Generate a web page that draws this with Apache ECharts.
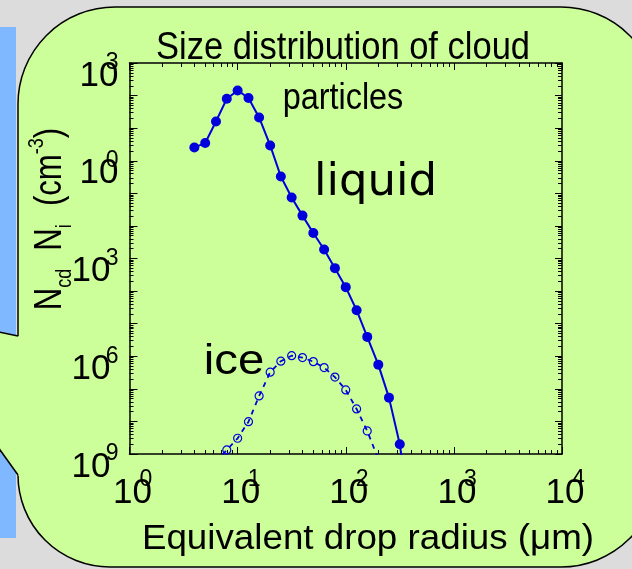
<!DOCTYPE html>
<html><head><meta charset="utf-8">
<script src="https://cdn.jsdelivr.net/npm/echarts@6/dist/echarts.min.js"></script>
<style>html,body{margin:0;padding:0;background:#dcdcdc}#c{width:632px;height:569px}</style>
</head><body><div id="c"></div>
<script>
// ---- data ----
const radiusLiquid = [3.98, 5.01, 6.31, 7.94, 10.0, 12.6, 15.8, 20.0, 25.1, 31.6, 39.8, 50.1, 63.1, 79.4, 100, 126, 158, 200, 251, 316, 398];
const nLiquid = [2.56, 3.49, 16.1, 80, 144, 84, 21.3, 2.95, 0.329, 0.0745, 0.0207, 0.00605, 0.00188, 5.06e-4, 1.32e-4, 2.59e-5, 3.93e-6, 5.53e-7, 5.37e-8, 1.99e-9, 1e-11];
const radiusIce = [6.31, 7.94, 10.0, 12.6, 15.8, 20.0, 25.1, 31.6, 39.8, 50.1, 63.1, 79.4, 100, 126, 158, 200];
const nIce = [5.6e-10, 1.33e-9, 3.04e-9, 9.8e-9, 6.05e-8, 3.24e-7, 7.05e-7, 1.04e-6, 9.08e-7, 6.84e-7, 4.48e-7, 2.29e-7, 9.25e-8, 2.41e-8, 5.09e-9, 7e-10];
// tick labels (decade exponents as drawn)
const xMajorExp = [0, 1, 2, 3, 4];
const xExpLabels = ['0', '1', '2', '3', '4'];
const yMajorExp = [-9, -6, -3, 0, 3];
const yExpLabels = ['9', '6', '3', '0', '3'];
const minorMantissa = [2, 3, 4, 5, 6, 7, 8, 9];

const xMinor = [], yMinor = [];
for (let d = 0; d < 4; d++) minorMantissa.forEach(m => xMinor.push(d + Math.log10(m)));
for (let d = -9; d < 3; d++) minorMantissa.forEach(m => yMinor.push(d + Math.log10(m)));

const BLUE = '#0000dd';
const FONT = "'Liberation Sans', Arial, sans-serif";
const tickStyle = {color: '#000', width: 1};
const lineStyle = {color: '#000', width: 1.5};

function helper(kind, pos, opt) {
  const isX = kind === 'x';
  const base = {
    type: 'value', position: pos,
    min: isX ? 0 : -9, max: isX ? 4 : 3,
    splitLine: {show: false},
    axisLine: {show: !!opt.line, onZero: false, lineStyle: lineStyle},
    axisTick: {show: true, inside: true, length: opt.tickLen, lineStyle: tickStyle},
    axisLabel: {show: false}
  };
  if (opt.minor) base.axisTick.customValues = isX ? xMinor : yMinor;
  else base.interval = 1;
  if (opt.label) base.axisLabel = opt.label;
  return base;
}

const chart = echarts.init(document.getElementById('c'), null, {renderer: 'canvas'});
chart.setOption({
  animation: false,
  backgroundColor: '#dcdcdc',
  grid: {left: 129.5, top: 63, width: 432.5, height: 391, outerBoundsMode: 'none', containLabel: false},
  xAxis: [
    {type: 'log', logBase: 10, min: 1, max: 10000, show: false},
    helper('x', 'bottom', {line: true, tickLen: 7, label: {
      show: true, customValues: xMajorExp, formatter: () => '10', margin: 22,
      fontSize: 35, fontFamily: FONT, color: '#000', padding: [0, 0, 0, 6]}}),
    helper('x', 'bottom', {minor: true, tickLen: 4, label: {
      show: true, customValues: xMajorExp, formatter: v => xExpLabels[xMajorExp.indexOf(Math.round(v))],
      margin: 14, fontSize: 23, fontFamily: FONT, color: '#000', padding: [0, 0, 0, 33]}}),
    helper('x', 'top', {line: true, tickLen: 7}),
    helper('x', 'top', {minor: true, tickLen: 4})
  ],
  yAxis: [
    {type: 'log', logBase: 10, min: 1e-9, max: 1e3, show: false},
    helper('y', 'left', {line: true, tickLen: 8, label: {
      show: true, customValues: yMajorExp, formatter: v => v < 0 ? '{m|10}' : '{p|10}',
      margin: 11, fontSize: 35, fontFamily: FONT, color: '#000', padding: [26, 0, 0, 0],
      rich: {m: {fontSize: 35, fontFamily: FONT, color: '#000', padding: [0, 8, 0, 0]},
             p: {fontSize: 35, fontFamily: FONT, color: '#000'}}}}),
    helper('y', 'left', {minor: true, tickLen: 4, label: {
      show: true, customValues: yMajorExp, formatter: v => yExpLabels[yMajorExp.indexOf(Math.round(v))],
      margin: 11, fontSize: 23, fontFamily: FONT, color: '#000', padding: [0, 0, 12, 0]}}),
    helper('y', 'right', {line: true, tickLen: 7}),
    helper('y', 'right', {minor: true, tickLen: 4})
  ],
  series: [
    {
      name: 'liquid', type: 'line', xAxisIndex: 0, yAxisIndex: 0, clip: true,
      data: radiusLiquid.map((r, i) => [r, nLiquid[i]]),
      symbol: 'circle', symbolSize: 10,
      itemStyle: {color: BLUE},
      lineStyle: {color: BLUE, width: 2},
      z: 5
    },
    {
      name: 'ice', type: 'line', xAxisIndex: 0, yAxisIndex: 0, clip: true,
      data: radiusIce.map((r, i) => [r, nIce[i]]),
      symbol: 'circle', symbolSize: 8,
      itemStyle: {color: 'rgba(0,0,0,0)', borderColor: BLUE, borderWidth: 1.2},
      lineStyle: {color: BLUE, width: 1.8, type: [5, 5]},
      z: 4
    }
  ],
  graphic: [
    {type: 'rect', z: -20, shape: {x: 0, y: 27, width: 16, height: 511}, style: {fill: '#80b8ff'}},
    {type: 'rect', z: -19, shape: {x: 18, y: 7, width: 640, height: 560, r: [97, 97, 97, 92]},
     style: {fill: '#ccff99', stroke: '#000', lineWidth: 1.5}},
    {type: 'polygon', z: -18, shape: {points: [[21, 336.7], [-40, 324], [-40, 394], [21, 479]]},
     style: {fill: '#ccff99'}},
    {type: 'polyline', z: -17, shape: {points: [[18, 336], [-40, 324]]}, style: {stroke: '#000', lineWidth: 1.5, fill: null}},
    {type: 'polyline', z: -17, shape: {points: [[18, 475], [-40, 394]]}, style: {stroke: '#000', lineWidth: 1.5, fill: null}},
    {type: 'text', z: 10, x: 343, y: 47.9, scaleX: 0.885, style: {text: 'Size distribution of cloud', fill: '#000',
      font: "39px " + FONT, align: 'center', verticalAlign: 'middle'}},
    {type: 'text', z: 10, x: 343, y: 98.8, scaleX: 0.9, style: {text: 'particles', fill: '#000',
      font: "36px " + FONT, align: 'center', verticalAlign: 'middle'}},
    {type: 'text', z: 10, x: 375.5, y: 183.6, style: {text: 'liquid', fill: '#000',
      font: "45px 'DejaVu Sans', sans-serif", align: 'center', verticalAlign: 'middle'}},
    {type: 'text', z: 10, x: 234, y: 362.6, scaleX: 1.1, style: {text: 'ice', fill: '#000',
      font: "43px " + FONT, align: 'center', verticalAlign: 'middle'}},
    {type: 'text', z: 10, x: 368, y: 539.2, scaleX: 1.05, style: {text: 'Equivalent drop radius (\u03bcm)', fill: '#000',
      font: "35px " + FONT, align: 'center', verticalAlign: 'middle'}},
    {type: 'text', z: 10, x: 51, y: 219, rotation: Math.PI / 2, scaleX: 0.82, style: {
      text: '{n|N}{sb|cd}{g|}{n|N}{sb|i}{g|}{n|(cm}{sp|-3}{n|)}', align: 'center', verticalAlign: 'middle',
      rich: {
        n: {fontSize: 38, fontFamily: FONT, color: '#000', lineHeight: 50},
        g: {fontSize: 38, fontFamily: FONT, color: '#000', lineHeight: 50, width: 22},
        sb: {fontSize: 22, fontFamily: FONT, color: '#000', verticalAlign: 'bottom', lineHeight: 50},
        sp: {fontSize: 22, fontFamily: FONT, color: '#000', verticalAlign: 'top', lineHeight: 50}
      }}}
  ]
});
</script></body></html>
